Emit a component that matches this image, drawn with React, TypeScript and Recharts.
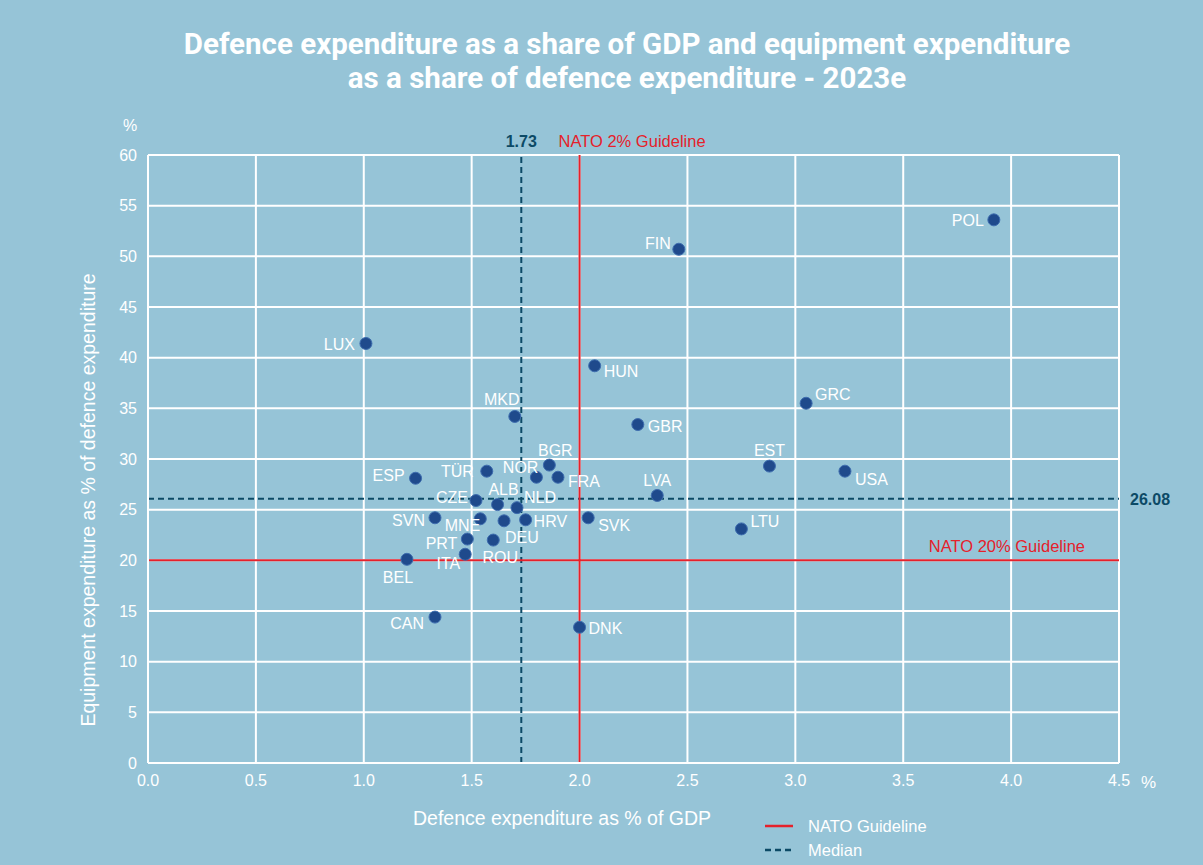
import React from "react";
import {
  ScatterChart,
  Scatter,
  XAxis,
  YAxis,
  CartesianGrid,
  ReferenceLine,
} from "recharts";

const countries = [
  "POL", "FIN", "LUX", "HUN", "GRC", "MKD", "GBR", "EST", "BGR", "USA",
  "TÜR", "NOR", "FRA", "ESP", "LVA", "CZE", "ALB", "NLD", "SVN", "MNE",
  "DEU", "HRV", "SVK", "LTU", "PRT", "ROU", "ITA", "BEL", "CAN", "DNK",
];
const gdpShare = [
  3.92, 2.46, 1.01, 2.07, 3.05, 1.7, 2.27, 2.88, 1.86, 3.23,
  1.57, 1.8, 1.9, 1.24, 2.36, 1.52, 1.62, 1.71, 1.33, 1.54,
  1.65, 1.75, 2.04, 2.75, 1.48, 1.6, 1.47, 1.2, 1.33, 2.0,
];
const equipmentShare = [
  53.6, 50.7, 41.4, 39.2, 35.5, 34.2, 33.4, 29.3, 29.4, 28.8,
  28.8, 28.2, 28.2, 28.1, 26.4, 25.9, 25.5, 25.2, 24.2, 24.1,
  23.9, 24.0, 24.2, 23.1, 22.1, 22.0, 20.6, 20.1, 14.4, 13.4,
];
const xTicks = [0, 0.5, 1, 1.5, 2, 2.5, 3, 3.5, 4, 4.5];
const yTicks = [0, 5, 10, 15, 20, 25, 30, 35, 40, 45, 50, 55, 60];
const natoGdp = 2;
const natoEquipment = 20;
const medianGdp = 1.73;
const medianEquipment = 26.08;

const points = countries.map((name, i) => ({
  name,
  x: gdpShare[i],
  y: equipmentShare[i],
}));

// where each country code sits relative to its dot
const labelPos: Record<string, [number, number, "start" | "middle" | "end"]> = {
  POL: [-10, 6, "end"],
  FIN: [-8, 0, "end"],
  LUX: [-11, 7, "end"],
  HUN: [9, 11, "start"],
  GRC: [9, -3, "start"],
  MKD: [-13, -11, "middle"],
  GBR: [10, 7, "start"],
  EST: [0, -10, "middle"],
  BGR: [6, -9, "middle"],
  USA: [10, 14, "start"],
  TÜR: [-13, 6, "end"],
  NOR: [2, -4, "end"],
  FRA: [10, 10, "start"],
  ESP: [-11, 3, "end"],
  LVA: [0, -9, "middle"],
  CZE: [-8, 2, "end"],
  ALB: [6, -10, "middle"],
  NLD: [7, -5, "start"],
  SVN: [-10, 8, "end"],
  MNE: [0, 12, "end"],
  DEU: [1, 22, "start"],
  HRV: [8, 7, "start"],
  SVK: [10, 13, "start"],
  LTU: [9, -2, "start"],
  PRT: [-10, 10, "end"],
  ROU: [7, 23, "middle"],
  ITA: [-5, 15, "end"],
  BEL: [-9, 24, "middle"],
  CAN: [-11, 12, "end"],
  DNK: [9, 7, "start"],
};

const BG = "#96c4d7";
const RED = "#e5212b";
const TEAL = "#0c4a66";
const DOT = "#1f4a8c";
const FONT = '"Liberation Sans", Arial, sans-serif';

const CountryDot = (props: any) => {
  const { cx, cy, payload } = props;
  const p = labelPos[payload.name] || [8, 5, "start"];
  return (
    <g>
      <circle cx={cx} cy={cy} r={6} fill={DOT} stroke="#3d6cae" strokeWidth={1} />
      <text
        x={cx + p[0]}
        y={cy + p[1]}
        textAnchor={p[2]}
        fill="#ffffff"
        fontSize={16}
        fontFamily={FONT}
      >
        {payload.name}
      </text>
    </g>
  );
};

const TopLabel = (props: any) => {
  const { viewBox, value, shift, color, bold, anchor } = props;
  return (
    <text
      x={viewBox.x + shift}
      y={viewBox.y - 8}
      textAnchor={anchor}
      fill={color}
      fontSize={bold ? 16 : 16.5}
      fontWeight={bold ? 700 : 400}
      fontFamily={FONT}
    >
      {value}
    </text>
  );
};

const SideLabel = (props: any) => {
  const { viewBox, value, posX, shift, color, bold, anchor } = props;
  return (
    <text
      x={posX}
      y={viewBox.y + shift}
      textAnchor={anchor}
      fill={color}
      fontSize={bold ? 16 : 16.5}
      fontWeight={bold ? 700 : 400}
      fontFamily={FONT}
    >
      {value}
    </text>
  );
};

export default function App() {
  return (
    <div
      style={{
        position: "absolute",
        left: 0,
        top: 0,
        width: 1203,
        height: 865,
        background: BG,
        fontFamily: FONT,
        color: "#fff",
        overflow: "hidden",
      }}
    >
      <div
        style={{
          position: "absolute",
          top: 27,
          left: 0,
          width: 1254,
          textAlign: "center",
          fontFamily: "Roboto, sans-serif",
          fontWeight: 700,
          fontSize: 29.5,
          lineHeight: "34px",
        }}
      >
        Defence expenditure as a share of GDP and equipment expenditure
        <br />
        as a share of defence expenditure - 2023e
      </div>

      <ScatterChart
        width={1203}
        height={865}
        margin={{ top: 155, right: 84, bottom: 72, left: 88 }}
      >
        <CartesianGrid stroke="#ffffff" strokeWidth={2} />
        <XAxis
          type="number"
          dataKey="x"
          domain={[0, 4.5]}
          ticks={xTicks}
          tickFormatter={(v: number) => v.toFixed(1)}
          axisLine={{ stroke: "#ffffff", strokeWidth: 2 }}
          tickLine={false}
          tickSize={0}
          tickMargin={12}
          height={30}
          tick={{ fill: "#ffffff", fontSize: 16, fontFamily: FONT }}
        />
        <YAxis
          type="number"
          dataKey="y"
          domain={[0, 60]}
          ticks={yTicks}
          axisLine={{ stroke: "#ffffff", strokeWidth: 2 }}
          tickLine={false}
          tickSize={0}
          tickMargin={11}
          width={60}
          tick={{ fill: "#ffffff", fontSize: 16, fontFamily: FONT }}
        />
        <ReferenceLine
          x={medianGdp}
          stroke={TEAL}
          strokeWidth={2}
          strokeDasharray="6 4"
          label={<TopLabel value="1.73" shift={0} color={TEAL} bold anchor="middle" />}
        />
        <ReferenceLine
          y={medianEquipment}
          stroke={TEAL}
          strokeWidth={2}
          strokeDasharray="6 4"
          label={<SideLabel value="26.08" posX={1130} shift={6} color={TEAL} bold anchor="start" />}
        />
        <ReferenceLine
          x={natoGdp}
          stroke={RED}
          strokeWidth={2}
          label={<TopLabel value="NATO 2% Guideline" shift={-21} color={RED} anchor="start" />}
        />
        <ReferenceLine
          y={natoEquipment}
          stroke={RED}
          strokeWidth={2}
          label={<SideLabel value="NATO 20% Guideline" posX={1085} shift={-8} color={RED} anchor="end" />}
        />
        <Scatter data={points} shape={<CountryDot />} isAnimationActive={false} />
      </ScatterChart>

      <div style={{ position: "absolute", left: 123, top: 117, fontSize: 16 }}>%</div>
      <div style={{ position: "absolute", left: 1141, top: 773, fontSize: 17 }}>%</div>

      <div
        style={{
          position: "absolute",
          left: 88 - 250,
          top: 500,
          width: 500,
          textAlign: "center",
          fontSize: 19.5,
          transform: "rotate(-90deg)",
          lineHeight: "22px",
          marginTop: -11,
        }}
      >
        Equipment expenditure as % of defence expenditure
      </div>
      <div
        style={{
          position: "absolute",
          left: 312,
          top: 807,
          width: 500,
          textAlign: "center",
          fontSize: 19.5,
        }}
      >
        Defence expenditure as % of GDP
      </div>

      <div style={{ position: "absolute", left: 765, top: 815, fontSize: 16.5 }}>
        <div style={{ display: "flex", alignItems: "center", height: 22 }}>
          <svg width={30} height={4} style={{ marginRight: 13 }}>
            <line x1={0} y1={2} x2={28} y2={2} stroke={RED} strokeWidth={2.5} />
          </svg>
          NATO Guideline
        </div>
        <div style={{ display: "flex", alignItems: "center", height: 26 }}>
          <svg width={30} height={4} style={{ marginRight: 13 }}>
            <line x1={0} y1={2} x2={28} y2={2} stroke={TEAL} strokeWidth={2.5} strokeDasharray="6 4" />
          </svg>
          Median
        </div>
      </div>
    </div>
  );
}
